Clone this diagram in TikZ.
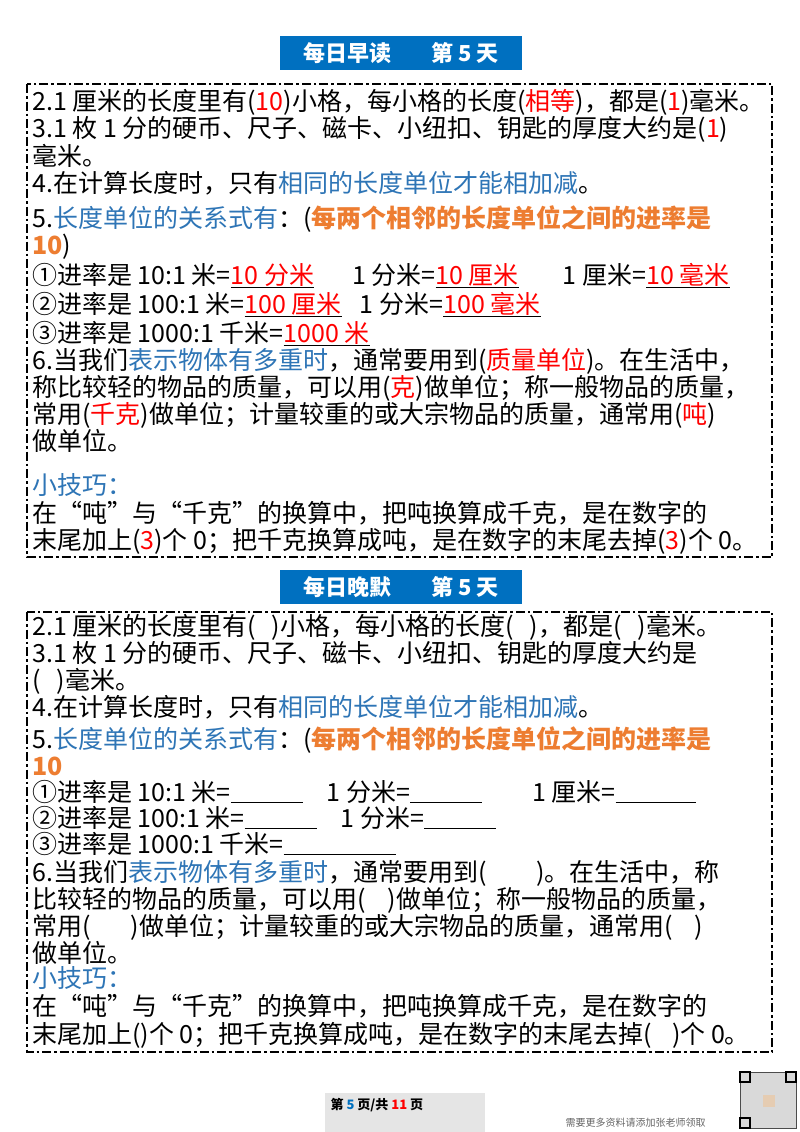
\documentclass[tikz,border=0pt]{standalone}
\usepackage{fontspec}
\setmainfont{Noto Sans CJK SC}
\definecolor{hblue}{RGB}{0,112,192}
\definecolor{tblue}{RGB}{46,117,182}
\definecolor{torange}{RGB}{237,125,49}
\newcommand{\rr}[1]{\textcolor{red}{#1}}
\newcommand{\bb}[1]{\textcolor{tblue}{#1}}
\newcommand{\oo}[1]{\textcolor{torange}{\bfseries #1}}
\newcommand{\ul}[1]{\underline{#1}}
\newcommand{\blank}[1]{\underline{\hspace{#1}}}
\begin{document}
\begin{tikzpicture}[x=1pt,y=-1pt,
  ln/.style={anchor=base west,inner sep=0pt,font=\fontsize{25}{28}\selectfont},
  hdr/.style={fill=hblue,text=white,font=\fontsize{22}{24}\selectfont\bfseries,minimum width=242pt,minimum height=34pt,inner sep=0pt},
  dbox/.style={draw,line width=2pt,dash pattern=on 9pt off 3pt on 2.5pt off 3pt}]
\useasboundingbox (0,0) rectangle (800,1132);
\fill[white] (0,0) rectangle (800,1132);
\node[hdr] (h1) at (401,53) {每日早读\hspace{40pt}第 5 天};
\draw[dbox] (27,84) rectangle (772,557);
\node[ln] (a1) at (32,110) {2.1 厘米的长度里有(\rr{10})小格，每小格的长度(\rr{相等})，都是(\rr{1})毫米。};
\node[ln] (a2) at (32,137) {3.1 枚 1 分的硬币、尺子、磁卡、小纽扣、钥匙的厚度大约是(\rr{1})};
\node[ln] (a3) at (32,165) {毫米。};
\node[ln] (a4) at (32,192) {4.在计算长度时，只有\bb{相同的长度单位才能相加减}。};
\node[ln] (a5) at (32,227) {5.\bb{长度单位的关系式有}：(\oo{每两个相邻的长度单位之间的进率是}};
\node[ln] (a6) at (32,254) {\oo{10})};
\node[ln] (a7) at (32,284) {①进率是 10:1 米=\ul{\rr{10 分米}}\hspace{38pt}1 分米=\ul{\rr{10 厘米}}\hspace{44pt}1 厘米=\ul{\rr{10 毫米}}};
\node[ln] (a8) at (32,313) {②进率是 100:1 米=\ul{\rr{100 厘米}}\hspace{18pt}1 分米=\ul{\rr{100 毫米}}};
\node[ln] (a9) at (32,342) {③进率是 1000:1 千米=\ul{\rr{1000 米}}};
\node[ln] (a10) at (32,369) {6.当我们\bb{表示物体有多重时}，通常要用到(\rr{质量单位})。在生活中，};
\node[ln] (a11) at (32,396) {称比较轻的物品的质量，可以用(\rr{克})做单位；称一般物品的质量，};
\node[ln] (a12) at (32,423) {常用(\rr{千克})做单位；计量较重的或大宗物品的质量，通常用(\rr{吨})};
\node[ln] (a13) at (32,450) {做单位。};
\node[ln] (a14) at (32,494) {\bb{小技巧：}};
\node[ln] (a15) at (32,522) {在“吨”与“千克”的换算中，把吨换算成千克，是在数字的};
\node[ln] (a16) at (32,549) {末尾加上(\rr{3})个 0；把千克换算成吨，是在数字的末尾去掉(\rr{3})个 0。};

\node[hdr] (h2) at (401,587) {每日晚默\hspace{40pt}第 5 天};
\draw[dbox] (27,612) rectangle (772,1052);
\node[ln] (b1) at (32,635) {2.1 厘米的长度里有(\hspace{16pt})小格，每小格的长度(\hspace{16pt})，都是(\hspace{16pt})毫米。};
\node[ln] (b2) at (32,662) {3.1 枚 1 分的硬币、尺子、磁卡、小纽扣、钥匙的厚度大约是};
\node[ln] (b3) at (32,689) {(\hspace{16pt})毫米。};
\node[ln] (b4) at (32,716) {4.在计算长度时，只有\bb{相同的长度单位才能相加减}。};
\node[ln] (b5) at (32,748) {5.\bb{长度单位的关系式有}：(\oo{每两个相邻的长度单位之间的进率是}};
\node[ln] (b6) at (32,775) {\oo{10}};
\node[ln] (b7) at (32,801) {①进率是 10:1 米=\blank{72pt}\hspace{24pt}1 分米=\blank{72pt}\hspace{50pt}1 厘米=\blank{80pt}};
\node[ln] (b8) at (32,827) {②进率是 100:1 米=\blank{72pt}\hspace{24pt}1 分米=\blank{72pt}};
\node[ln] (b9) at (32,853) {③进率是 1000:1 千米=\blank{112pt}};
\node[ln] (b10) at (32,881) {6.当我们\bb{表示物体有多重时}，通常要用到(\hspace{50pt})。在生活中，称};
\node[ln] (b11) at (32,908) {比较轻的物品的质量，可以用(\hspace{22pt})做单位；称一般物品的质量，};
\node[ln] (b12) at (32,935) {常用(\hspace{40pt})做单位；计量较重的或大宗物品的质量，通常用(\hspace{22pt})};
\node[ln] (b13) at (32,962) {做单位。};
\node[ln] (b14) at (32,987) {\bb{小技巧：}};
\node[ln] (b15) at (32,1015) {在“吨”与“千克”的换算中，把吨换算成千克，是在数字的};
\node[ln] (b16) at (32,1043) {末尾加上()个 0；把千克换算成吨，是在数字的末尾去掉(\hspace{20pt})个 0。};

\fill[black!10] (325,1093) rectangle (485,1132);
\node[font=\fontsize{13}{15}\selectfont\bfseries,anchor=west] (pg) at (327,1105) {第 \textcolor{hblue}{5} 页/共 \textcolor{red}{11} 页};
\node[font=\fontsize{10}{12}\selectfont,text=black!60,anchor=west] (ad) at (562,1123) {需要更多资料请添加张老师领取};
\node[draw=black!70,fill=black!15,minimum size=56pt,inner sep=0pt] (qr) at (768,1100) {};
\foreach \cx/\cy in {745/1077,791/1077,745/1123}{\draw[line width=2pt] (\cx-5,\cy-5) rectangle (\cx+5,\cy+5);}
\fill[brown!40] (763,1095) rectangle (775,1107);
\end{tikzpicture}
\end{document}
